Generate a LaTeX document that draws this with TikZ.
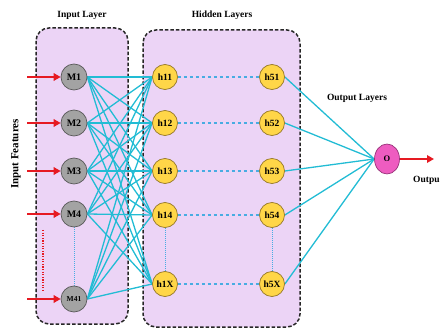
\documentclass[tikz,border=0pt]{standalone}
\usepackage{fontspec}
\setmainfont{Liberation Serif}
\usetikzlibrary{arrows.meta,shapes.geometric}

\definecolor{layerfill}{RGB}{236,212,246}
\definecolor{wire}{RGB}{34,188,212}
\definecolor{dashwire}{RGB}{72,172,226}
\definecolor{inred}{RGB}{230,26,34}
\definecolor{mgray}{RGB}{163,163,163}
\definecolor{mborder}{RGB}{90,90,90}
\definecolor{hyellow}{RGB}{255,214,72}
\definecolor{hborder}{RGB}{150,120,40}
\definecolor{opink}{RGB}{238,92,192}
\definecolor{oborder}{RGB}{150,50,120}

\pgfdeclarelayer{bg}
\pgfdeclarelayer{edges}
\pgfsetlayers{bg,edges,main}

\begin{document}
\begin{tikzpicture}[x=1pt,y=-1pt,
  layerbox/.style={draw=black!85, line width=1.5pt, dash pattern=on 3.5pt off 2pt,
    rounded corners=13pt, fill=layerfill},
  title/.style={font=\bfseries\fontsize{9.5}{10}\selectfont},
  mnode/.style={circle, draw=mborder, line width=0.7pt, fill=mgray, minimum size=26pt,
    inner sep=0pt, font=\bfseries\fontsize{10}{10}\selectfont},
  hnode/.style={circle, draw=hborder, line width=0.7pt, fill=hyellow, minimum size=25pt,
    inner sep=0pt, font=\bfseries\fontsize{9.5}{9.5}\selectfont},
  onode/.style={ellipse, draw=oborder, line width=0.7pt, fill=opink, minimum width=25pt,
    minimum height=30pt, inner sep=0pt, font=\bfseries\fontsize{8.5}{8.5}\selectfont},
  wireline/.style={draw=wire, line width=1.3pt},
  dashline/.style={draw=dashwire, line width=1.3pt, dash pattern=on 3.5pt off 2.5pt},
  dotline/.style={draw=dashwire, line width=1pt, dash pattern=on 1pt off 1pt},
  inarrow/.style={draw=inred, line width=1.7pt, -{Triangle[length=7pt,width=7.5pt]}},
]
\useasboundingbox (0,0) rectangle (440,329);

% layer frames
\begin{pgfonlayer}{bg}
  \path[layerbox] (36,28) rectangle (128,324);
  \path[layerbox] (143,30) rectangle (300,327);
\end{pgfonlayer}

% titles
\node[title] (tin) at (82,15) {Input Layer};
\node[title] (thid) at (222,15) {Hidden Layers};
\node[title] (tout) at (357,98) {Output Layers};
\node[font=\bfseries\fontsize{11}{11}\selectfont, rotate=90] (tfeat) at (16,154) {Input Features};

% input neurons
\node[mnode] (M1) at (74,77) {M1};
\node[mnode] (M2) at (74,123) {M2};
\node[mnode] (M3) at (74,171) {M3};
\node[mnode] (M4) at (74,214) {M4};
\node[mnode, font=\bfseries\fontsize{7.5}{7.5}\selectfont] (M41) at (74,299) {M41};

% hidden neurons
\node[hnode] (h11) at (165,77) {h11};
\node[hnode] (h12) at (165,123) {h12};
\node[hnode] (h13) at (165,171) {h13};
\node[hnode] (h14) at (165,215) {h14};
\node[hnode] (h1X) at (165,284) {h1X};
\node[hnode] (h51) at (272,77) {h51};
\node[hnode] (h52) at (272,123) {h52};
\node[hnode] (h53) at (272,171) {h53};
\node[hnode] (h54) at (272,215) {h54};
\node[hnode] (h5X) at (272,284) {h5X};

% output neuron
\node[onode] (O) at (387,159) {O};
\node[font=\bfseries\fontsize{9.5}{10}\selectfont, anchor=west, inner sep=1pt] (outlbl) at (412,180) {Outpu};

% input arrows
\foreach \m/\y in {M1/77,M2/123,M3/171,M4/214,M41/299} {
  \coordinate (s\m) at (27,\y);
  \draw[inarrow] (s\m) -- (\m.west);
}
\coordinate (oend) at (434,159);
\draw[inarrow] (O.east) -- (oend);

% elided inputs
\coordinate (dA) at (43,230);
\coordinate (dB) at (43,291);
\draw[draw=inred, line width=1.3pt, dash pattern=on 1.3pt off 1.3pt] (dA) -- (dB);

\begin{pgfonlayer}{edges}
  % dense input-to-hidden links
  \foreach \m in {M1,M2,M3,M4,M41}
    \foreach \h in {h11,h12,h13,h14,h1X}
      \draw[wireline] (\m.east) -- (\h.west);
  % links into the output neuron
  \foreach \h in {h51,h52,h53,h54,h5X}
    \draw[wireline] (\h.east) -- (O.west);
  % hidden chains
  \foreach \i in {1,2,3,4,X}
    \draw[dashline] (h1\i) -- (h5\i);
  \draw[dotline] (h14) -- (h1X);
  \draw[dotline] (h54) -- (h5X);
  \draw[dotline] (M4) -- (M41);
\end{pgfonlayer}
\end{tikzpicture}
\end{document}
